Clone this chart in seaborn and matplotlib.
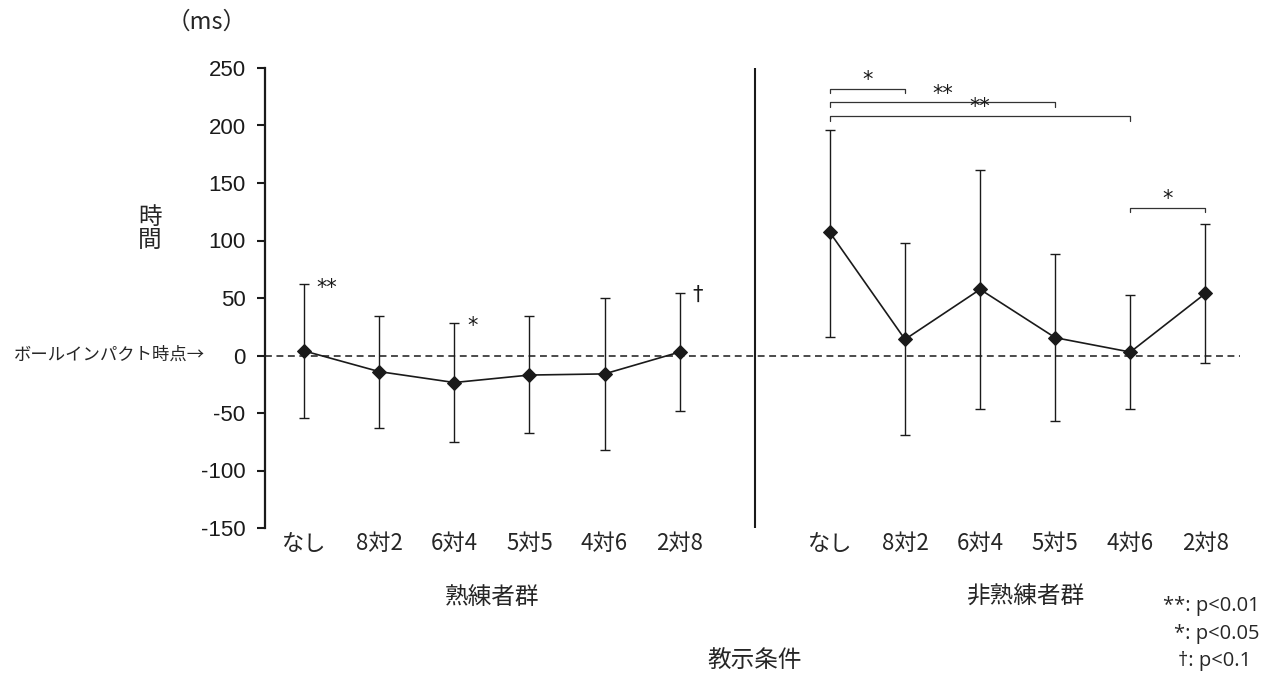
import numpy as np
import pandas as pd
import matplotlib
matplotlib.use("Agg")
import matplotlib.pyplot as plt
import matplotlib.transforms as mtransforms
import seaborn as sns

# ---- data ----
conditions = ["なし", "8対2", "6対4", "5対5", "4対6", "2対8"]
groups = ["熟練者群", "非熟練者群"]

skilled_mean = [4, -14, -23.5, -17, -16, 3]
skilled_upper = [62, 34, 28.5, 34, 50, 54]
skilled_lower = [-54, -63, -75, -67, -82, -48]

novice_mean = [107, 14, 57.5, 15.5, 3, 54]
novice_upper = [196, 98, 161, 88.5, 53, 114]
novice_lower = [16, -69.5, -46.5, -57, -46.5, -6.5]

yticks = [-150, -100, -50, 0, 50, 100, 150, 200, 250]

# significance brackets (from idx, to idx, level, label) on novice group
brackets = [(0, 1, 232, "*"), (0, 3, 220, "**"), (0, 4, 208, "**"), (4, 5, 128.5, "*")]
# marker annotations on skilled group (idx, y, label)
marks = [(0, 59, "**"), (2, 26, "*"), (5, 53, "†")]

# ---- build table ----
n = len(conditions)
rows = []
for gi, (g, m, up, lo) in enumerate(zip(groups,
                                        [skilled_mean, novice_mean],
                                        [skilled_upper, novice_upper],
                                        [skilled_lower, novice_lower])):
    for i, c in enumerate(conditions):
        rows.append(dict(group=g, cond=c, pos=i + gi * (n + 1),
                         mean=m[i], upper=up[i], lower=lo[i]))
df = pd.DataFrame(rows)

sns.set_style("white")
plt.rcParams["font.family"] = ["Noto Sans CJK JP", "DejaVu Sans"]

fig = plt.figure(figsize=(12.63, 6.75), dpi=100)
ax = fig.add_axes([265 / 1263, 1 - 528 / 675, (1240 - 265) / 1263, (528 - 68) / 675])

ink = "#1a1a1a"

# error bars
ax.errorbar(df["pos"], df["mean"],
            yerr=[df["mean"] - df["lower"], df["upper"] - df["mean"]],
            fmt="none", ecolor=ink, elinewidth=1.0, capsize=3.5, capthick=1.0, zorder=2)

# lines with diamond markers
for g in groups:
    sub = df[df["group"] == g]
    sns.lineplot(data=sub, x="pos", y="mean", ax=ax, color=ink, linewidth=1.2,
                 marker="D", markersize=7, markeredgecolor=ink, markerfacecolor=ink,
                 zorder=3, legend=False)

# reference line at 0
ax.axhline(0, color=ink, linestyle=(0, (4.5, 3)), linewidth=1.1, zorder=1)

# group separator
ax.axvline(n, color=ink, linewidth=1.5, zorder=1)

ax.set_xlim(-0.52, 2 * n + 0.46)
ax.set_ylim(-150, 250)
ax.set_yticks(yticks)
ax.set_yticklabels([str(t) for t in yticks], fontsize=16, family="Liberation Sans")
ax.set_xticks(df["pos"])
ax.set_xticklabels(df["cond"], fontsize=16)
ax.tick_params(axis="x", length=0, pad=3)
ax.tick_params(axis="y", direction="out", length=6, width=1.5, pad=8, left=True, colors=ink)
for s in ["top", "right", "bottom"]:
    ax.spines[s].set_visible(False)
ax.spines["left"].set_linewidth(1.6)
ax.spines["left"].set_color(ink)
ax.set_xlabel("")
ax.set_ylabel("")

# significance brackets
off = n + 1
for a, b, y, lab in brackets:
    xa, xb = a + off, b + off
    ax.plot([xa, xa, xb, xb], [y - 4, y, y, y - 4], color="#333333", linewidth=0.9)
    ax.text((xa + xb) / 2, y - 1, lab, ha="center", va="bottom", fontsize=15,
            color=ink, family="DejaVu Sans")

for i, y, lab in marks:
    ax.text(i + 0.17, y, lab, ha="left", va="center", fontsize=15, color=ink,
            family="DejaVu Sans")

# group labels
trans = mtransforms.blended_transform_factory(ax.transData, fig.transFigure)
ax.text(2.5, 1 - 597 / 675, groups[0], transform=trans, ha="center", va="center", fontsize=17)
ax.text(9.6, 1 - 597 / 675, groups[1], transform=trans, ha="center", va="center", fontsize=17)

fig.text(755 / 1263, 1 - 660 / 675, "教示条件", ha="center", va="center", fontsize=17)
fig.text(150 / 1263, 1 - 229 / 675, "時\n間", ha="center", va="center", fontsize=17, linespacing=1.0)
fig.text(207 / 1263, 1 - 22 / 675, "（ms）", ha="center", va="center", fontsize=17)
fig.text(205 / 1263, 1 - 355 / 675, "ボールインパクト時点→", ha="right", va="center", fontsize=12.5)

fig.text(1260 / 1263, 1 - 606 / 675, "**: p<0.01", ha="right", va="center", fontsize=14.5, family="Open Sans")
fig.text(1260 / 1263, 1 - 634 / 675, "*: p<0.05", ha="right", va="center", fontsize=14.5, family="Open Sans")
fig.text(1251 / 1263, 1 - 661 / 675, "†: p<0.1", ha="right", va="center", fontsize=14.5, family="Open Sans")

fig.savefig("out.png", dpi=100)
